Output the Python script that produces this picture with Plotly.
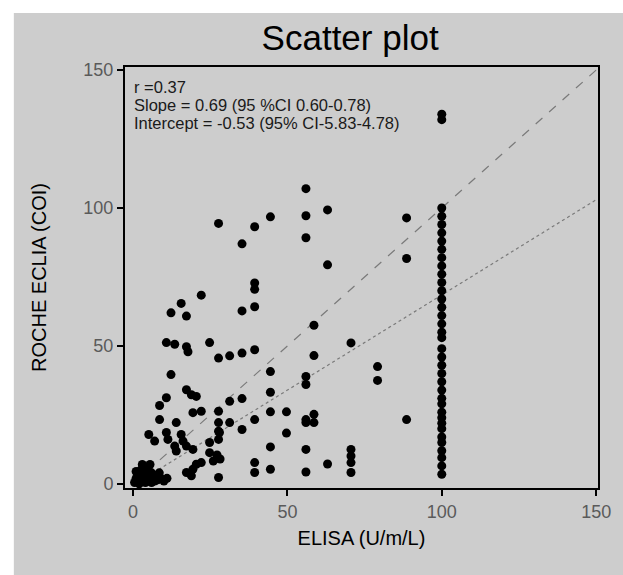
import plotly.graph_objects as go

# ---- data ----
col100_y = [134, 132, 100, 97, 94, 91, 88, 85, 82, 79, 76, 73, 70, 67, 64, 61, 58, 55,
            53, 49, 46, 43, 40, 37, 34, 31, 29, 26, 24, 22, 20, 17, 15, 12, 9.5, 6.5, 3.5]

other_x = [88.6, 88.6, 88.6,
           79.2, 79.2,
           70.6, 70.6, 70.6, 70.6, 70.6,
           63, 63, 63,
           58.6, 58.6, 58.6, 58.6,
           56, 56, 56, 56, 56, 56, 56, 56, 56,
           49.7, 49.7,
           44.5, 44.5, 44.5, 44.5, 44.5, 44.5,
           39.4, 39.4, 39.4, 39.4, 39.4, 39.4, 39.4, 39.4,
           35.3, 35.3, 35.3, 35.3, 35.3,
           31.3, 31.3, 31.3,
           27.7, 27.7, 27.7, 27.7, 27.7, 27.7, 27.7, 28.0,
           24.8, 24.8, 24.8, 27.2, 28.2, 26.0,
           22.1, 22.1, 22.1,
           20.5, 20.5,
           19.4, 19.4, 19.4,
           17.3, 17.3, 17.3, 17.3, 17.3,
           18.9, 18.9, 17.8,
           15.6, 15.6, 16.2,
           13.5, 13.5, 14.0, 14.0,
           12.3, 12.3,
           10.8, 10.8, 10.8, 11.3,
           8.6, 8.6, 7.0, 5.1,
           0.5, 1.0, 1.5, 2.0, 2.0, 3.0, 3.0, 3.5, 4.0, 4.0, 4.5, 5.0, 5.0, 5.5, 6.0,
           6.0, 6.5, 7.0, 7.5, 8.0, 9.0, 10.0, 11.0, 3.0, 2.5, 5.5, 1.0, 8.5]

other_y = [96.4, 81.7, 23.3,
           42.5, 37.5,
           51.1, 12.5, 10.1, 7.7, 4.1,
           99.3, 79.4, 7.2,
           57.5, 46.5, 25.2, 22.2,
           107, 97.2, 89.2, 38.9, 36, 23.3, 22.2, 12.5, 4.3,
           26.1, 18.4,
           96.8, 40.7, 33.2, 26.1, 13.4, 5.3,
           93.2, 72.8, 70.5, 64.2, 48.6, 23.3, 7.7, 4.1,
           87, 62.7, 47.4, 30.9, 19.7,
           46.4, 29.9, 22.2,
           94.4, 45.6, 26.3, 22.2, 19.1, 16.1, 2.3, 18.6,
           51.2, 15, 11.3, 10.5, 9.0, 8.3,
           68.4, 26.3, 7.7,
           7.1, 31.7,
           5.3, 12.5, 25.8,
           34.1, 49.7, 60.8, 13.7, 4.1,
           32.3, 2.9, 47.9,
           65.4, 17.9, 15.5,
           50.6, 13.7, 22.2, 11.9,
           62, 39.6,
           51.2, 31.2, 18.6, 16.1,
           28.4, 23.3, 15.5, 17.9,
           0.5, 2.0, 1.0, 3.0, 0.0, 1.5, 4.0, 6.0, 2.0, 0.5, 3.0, 5.0, 1.0, 2.5, 0.5,
           4.0, 2.0, 1.0, 3.0, 1.5, 2.0, 1.0, 2.0, 7.0, 5.0, 7.0, 4.5, 4.0]

elisa = [100] * len(col100_y) + other_x
eclia = col100_y + other_y

slope = 0.69
intercept = -0.53
line_x = [0, 150]
identity_y = [0, 150]
fit_y = [slope * v + intercept for v in line_x]

stat_lines = ["r =0.37",
              "Slope = 0.69 (95 %CI 0.60-0.78)",
              "Intercept = -0.53 (95% CI-5.83-4.78)"]

tick_vals = [0, 50, 100, 150]
tick_text = ["0", "50", "100", "150"]

FONT = "Liberation Sans, Arial, sans-serif"
GRAY = "#cdcdcd"

fig = go.Figure()
fig.add_trace(go.Scatter(x=line_x, y=identity_y, mode="lines",
                         line=dict(color="#7a7a7a", width=1.2, dash="dash"),
                         hoverinfo="skip", showlegend=False))
fig.add_trace(go.Scatter(x=line_x, y=fit_y, mode="lines",
                         line=dict(color="#7a7a7a", width=1.2, dash="dot"),
                         hoverinfo="skip", showlegend=False))
fig.add_trace(go.Scatter(x=elisa, y=eclia, mode="markers",
                         marker=dict(color="black", size=9),
                         showlegend=False))

ann_y = [0.953, 0.910, 0.866]
for txt, yy in zip(stat_lines, ann_y):
    fig.add_annotation(text=txt, xref="paper", yref="paper", x=0.015, y=yy,
                       xanchor="left", yanchor="middle", showarrow=False,
                       font=dict(family=FONT, size=16.5, color="#1a1a1a"))

# white border bands at the left and top of the gray page
fig.add_shape(type="rect", xref="paper", yref="paper", layer="below",
              x0=-0.3, x1=-0.235, y0=-0.3, y1=1.3,
              fillcolor="white", line=dict(width=0))
fig.add_shape(type="rect", xref="paper", yref="paper", layer="below",
              x0=-0.3, x1=1.2, y0=1.128, y1=1.3,
              fillcolor="white", line=dict(width=0))

axis_common = dict(showgrid=False, zeroline=False, showline=True, mirror=True,
                   linecolor="black", linewidth=2, ticks="outside", ticklen=6,
                   tickwidth=2, tickcolor="black", tickvals=tick_vals,
                   ticktext=tick_text,
                   tickfont=dict(family=FONT, size=18, color="#5a5a5a"))

fig.update_layout(
    width=623, height=575,
    margin=dict(l=125, r=25, t=67, b=87),
    paper_bgcolor=GRAY, plot_bgcolor=GRAY,
    title=dict(text="Scatter plot", x=0.562, y=0.934, xanchor="center",
               yanchor="middle", xref="container", yref="container",
               font=dict(family=FONT, size=35, color="black")),
    xaxis=dict(range=[-2.6, 150.6],
               title=dict(text="ELISA (U/m/L)", standoff=10,
                          font=dict(family=FONT, size=20, color="black")),
               **axis_common),
    yaxis=dict(range=[-1.5, 151.1],
               title=dict(text="ROCHE ECLIA (COI)", standoff=31,
                          font=dict(family=FONT, size=20, color="black")),
               **axis_common),
)

page_js = ("document.body.style.margin='0';"
           "document.body.style.overflow='hidden';"
           "document.body.style.background='" + GRAY + "';")
fig.write_html("out.html", post_script=page_js,
               config={"displayModeBar": False})
